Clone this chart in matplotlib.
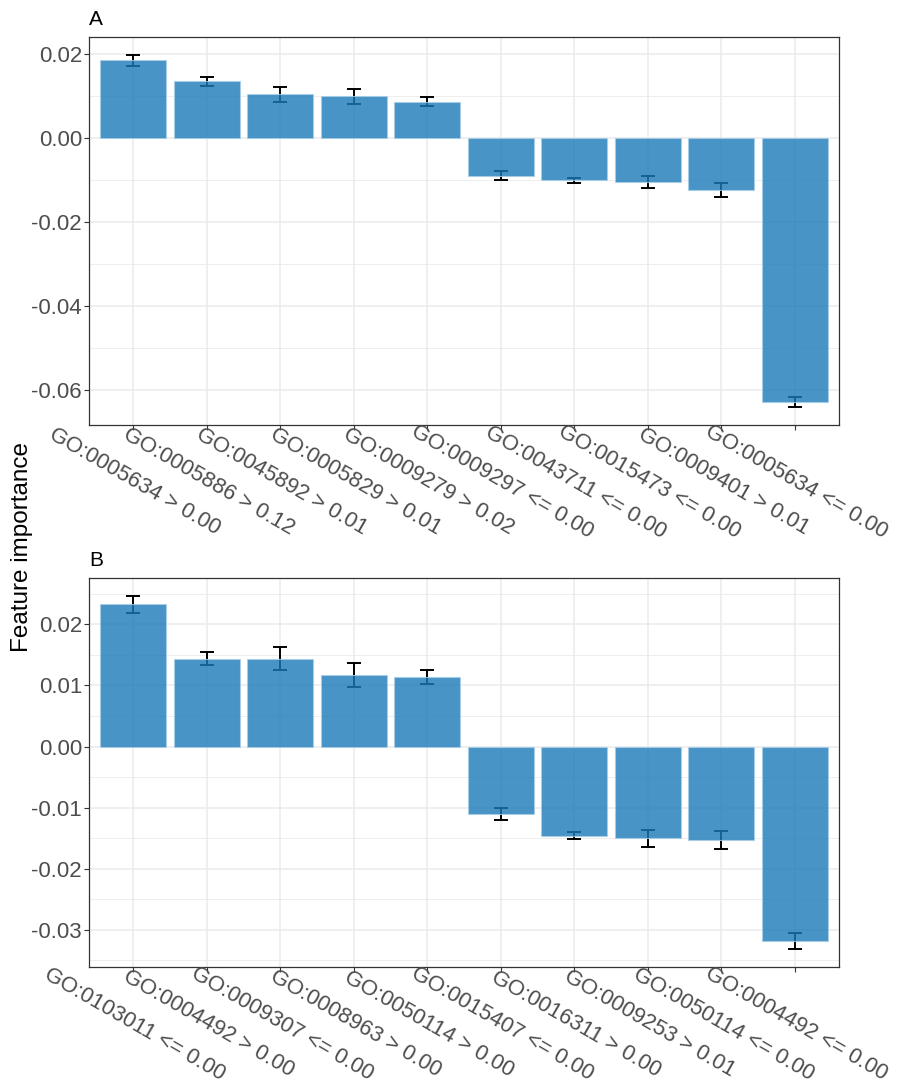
import numpy as np
import matplotlib
matplotlib.use("Agg")
import matplotlib.pyplot as plt
import matplotlib.transforms as mtransforms
from matplotlib.ticker import MultipleLocator, FormatStrFormatter

plt.rcParams['font.family'] = ['Liberation Sans', 'DejaVu Sans']

# panel A
labels_a = ["GO:0005634 > 0.00", "GO:0005886 > 0.12", "GO:0045892 > 0.01",
            "GO:0005829 > 0.01", "GO:0009279 > 0.02", "GO:0009297 <= 0.00",
            "GO:0043711 <= 0.00", "GO:0015473 <= 0.00", "GO:0009401 > 0.01",
            "GO:0005634 <= 0.00"]
imp_a = [0.0186, 0.0135, 0.0104, 0.0100, 0.0087, -0.0090, -0.0101, -0.0105, -0.0124, -0.0630]
sd_a = [0.0013, 0.0011, 0.0018, 0.0018, 0.0011, 0.0011, 0.0007, 0.0015, 0.0016, 0.0012]

# panel B
labels_b = ["GO:0103011 <= 0.00", "GO:0004492 > 0.00", "GO:0009307 <= 0.00",
            "GO:0008963 > 0.00", "GO:0050114 > 0.00", "GO:0015407 <= 0.00",
            "GO:0016311 > 0.00", "GO:0009253 > 0.01", "GO:0050114 <= 0.00",
            "GO:0004492 <= 0.00"]
imp_b = [0.0233, 0.0144, 0.0144, 0.0117, 0.0114, -0.0110, -0.0146, -0.0150, -0.0153, -0.0319]
sd_b = [0.0014, 0.0011, 0.0019, 0.0019, 0.0011, 0.0010, 0.0006, 0.0014, 0.0015, 0.0013]

bar_col = '#1a7ab8'
grid_col = '#ebebeb'

fig = plt.figure(figsize=(8.97, 10.84), dpi=100)
ax_a = fig.add_axes([89/897, 1-425/1084, 750/897, 388/1084])
ax_b = fig.add_axes([89/897, 1-967/1084, 750/897, 389/1084])


def draw(ax, labels, imp, sd, major, minor, tag):
    x = np.arange(1, len(labels) + 1)
    imp = np.array(imp)
    sd = np.array(sd)
    ax.errorbar(x, imp, yerr=sd, fmt='none', ecolor='black', elinewidth=1.4,
                capsize=5, capthick=1.4, zorder=2)
    ax.bar(x, imp, width=0.9, color=bar_col, alpha=0.8, edgecolor='#a9cfe8',
           linewidth=0.8, zorder=3)
    lo = (imp - sd).min()
    hi = (imp + sd).max()
    pad = 0.05 * (hi - lo)
    ax.set_ylim(lo - pad, hi + pad)
    ax.set_xlim(0.4, len(labels) + 0.6)
    ax.yaxis.set_major_locator(MultipleLocator(major))
    ax.yaxis.set_minor_locator(MultipleLocator(minor))
    ax.yaxis.set_major_formatter(FormatStrFormatter('%.2f'))
    ax.set_xticks(x)
    ax.set_xticklabels([''] * len(labels))
    ax.grid(which='major', color=grid_col, linewidth=1.1, zorder=0)
    ax.grid(which='minor', axis='y', color=grid_col, linewidth=0.6, zorder=0)
    ax.set_axisbelow(True)
    ax.tick_params(which='minor', length=0)
    ax.tick_params(which='major', length=3.5, width=0.8, color='#333333',
                   labelcolor='#4d4d4d', labelsize=16)
    ax.tick_params(axis='y', pad=1.5)
    # rotated category labels, centred a bit below each tick
    trans = ax.get_xaxis_transform() + mtransforms.ScaledTranslation(
        7 / 100, -48 / 100, fig.dpi_scale_trans)
    for xi, lab in zip(x, labels):
        ax.text(xi, 0, lab, transform=trans, rotation=-30, ha='center', va='top',
                rotation_mode='anchor', fontsize=15.8, color='#4d4d4d')
    for s in ax.spines.values():
        s.set_color('#333333')
        s.set_linewidth(0.9)
    ax.text(0.0, 1.02, tag, transform=ax.transAxes, fontsize=15, ha='left', va='bottom')


draw(ax_a, labels_a, imp_a, sd_a, 0.02, 0.01, 'A')
draw(ax_b, labels_b, imp_b, sd_b, 0.01, 0.005, 'B')

fig.text(0.025, 0.495, 'Feature importance', rotation=90, fontsize=17.5,
         ha='center', va='center')

fig.savefig('out.png', dpi=100)
